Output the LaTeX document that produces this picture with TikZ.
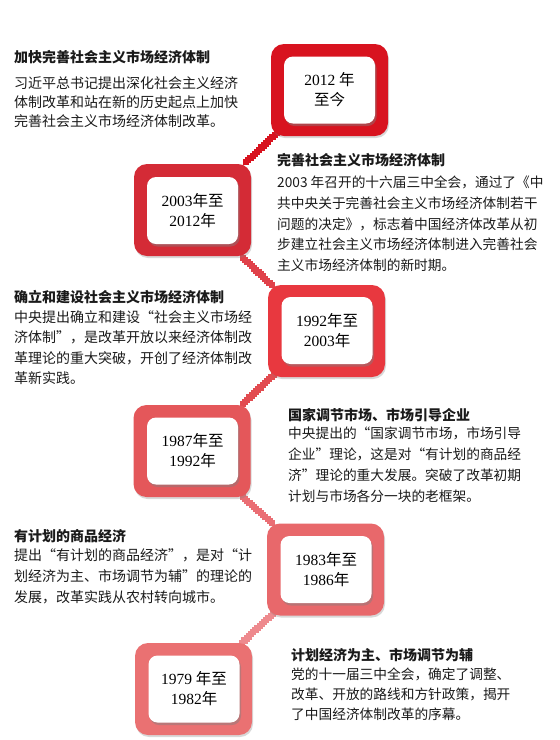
\documentclass[tikz,border=0pt]{standalone}
\usepackage{fontspec}
\setmainfont{Liberation Serif}
\newfontfamily\cjk{Noto Sans CJK SC}
\usetikzlibrary{shadows,decorations.markings,calc}
\pgfdeclarelayer{background}
\pgfsetlayers{background,main}
\definecolor{ra}{HTML}{D8131F}
\definecolor{rb}{HTML}{D42B36}
\definecolor{rc}{HTML}{E8383F}
\definecolor{rd}{HTML}{E4575A}
\definecolor{re}{HTML}{E8686B}
\definecolor{rf}{HTML}{EA7172}
\definecolor{ca}{HTML}{D8131F}
\definecolor{cb}{HTML}{E0414A}
\definecolor{cc}{HTML}{E24B50}
\definecolor{cd}{HTML}{EA6E74}
\definecolor{ce}{HTML}{EE8A8E}
\definecolor{txt}{HTML}{1A1A1A}
\tikzset{
  outerbox/.style={fill=#1, rounded corners=13pt, minimum width=117pt, minimum height=92pt,
    drop shadow={shadow xshift=1pt, shadow yshift=-2pt, opacity=0.3}},
  innerbox/.style={fill=white, rounded corners=9pt, minimum width=91pt, minimum height=67pt,
    align=center, inner sep=0pt, font=\fontsize{15.5}{20}\selectfont,
    drop shadow={shadow xshift=1.5pt, shadow yshift=-2.5pt, opacity=0.45}},
  ttl/.style={anchor=west, inner sep=0pt, text=txt, font=\fontsize{14}{14}\cjk\bfseries},
  bodytext/.style={anchor=north west, inner sep=0pt, align=left, text=txt,
    font=\fontsize{#1}{#1}\cjk},
  stairs/.style={decoration={markings, mark=between positions 0 and 1 step 3pt with
    {\pgftransformresetnontranslations \fill[#1] (-3.1pt,-3.1pt) rectangle (3.1pt,3.1pt);}},
    decorate}
}
\begin{document}
\begin{tikzpicture}[x=1pt,y=-1pt]
\useasboundingbox (0,0) rectangle (560,740);

% boxes
\node[outerbox=ra] (o1) at (329.5,90) {};
\node[innerbox] (i1) at (329.5,90) {2012 {\cjk 年}\\{\cjk 至今}};
\node[outerbox=rb] (o2) at (192.5,210) {};
\node[innerbox] (i2) at (192.5,210.5) {2003{\cjk 年至}\\2012{\cjk 年}};
\node[outerbox=rc] (o3) at (326.5,331) {};
\node[innerbox] (i3) at (327,330.5) {1992{\cjk 年至}\\2003{\cjk 年}};
\node[outerbox=rd] (o4) at (192,451) {};
\node[innerbox] (i4) at (192.5,451) {1987{\cjk 年至}\\1992{\cjk 年}};
\node[outerbox=re] (o5) at (325.5,569.5) {};
\node[innerbox] (i5) at (326,569.5) {1983{\cjk 年至}\\1986{\cjk 年}};
\node[outerbox=rf] (o6) at (193.5,689) {};
\node[innerbox] (i6) at (194,689) {1979 {\cjk 年至}\\1982{\cjk 年}};

% connectors
\begin{pgfonlayer}{background}
\fill[white] (0,0) rectangle (560,740);
\path[stairs=ca] ($(o1.south west)+(6,-3)$) -- ($(o2.north east)+(-7,0)$);
\path[stairs=cb] ($(o2.south east)+(-8,2)$) -- ($(o3.north west)+(4,0)$);
\path[stairs=cc] ($(o3.south west)+(6,-2)$) -- ($(o4.north east)+(-9,0)$);
\path[stairs=cd] ($(o4.south east)+(-8,0)$) -- ($(o5.north west)+(6,0)$);
\path[stairs=ce] ($(o5.south west)+(6,-2)$) -- ($(o6.north east)+(-10,0)$);
\end{pgfonlayer}

% texts
\node[ttl] (t1) at (14,56.7) {加快完善社会主义市场经济体制};
\node[bodytext=14, font=\fontsize{14}{19}\cjk] (b1) at (14,76) {习近平总书记提出深化社会主义经济\\体制改革和站在新的历史起点上加快\\完善社会主义市场经济体制改革。};

\node[ttl] (t2) at (277,160) {完善社会主义市场经济体制};
\node[bodytext=13.7, font=\fontsize{13.7}{20.6}\cjk] (b2) at (277,176) {2003 年召开的十六届三中全会，通过了《中\\共中央关于完善社会主义市场经济体制若干\\问题的决定》，标志着中国经济体改革从初\\步建立社会主义市场经济体制进入完善社会\\主义市场经济体制的新时期。};

\node[ttl] (t3) at (14,296.7) {确立和建设社会主义市场经济体制};
\node[bodytext=14, font=\fontsize{14}{20.5}\cjk] (b3) at (14,310) {中央提出确立和建设“社会主义市场经\\济体制”，是改革开放以来经济体制改\\革理论的重大突破，开创了经济体制改\\革新实践。};

\node[ttl] (t4) at (288,415) {国家调节市场、市场引导企业};
\node[bodytext=13.7, font=\fontsize{13.7}{21}\cjk] (b4) at (288,426.5) {中央提出的“国家调节市场，市场引导\\企业”理论，这是对“有计划的商品经\\济”理论的重大发展。突破了改革初期\\计划与市场各分一块的老框架。};

\node[ttl] (t5) at (14,536) {有计划的商品经济};
\node[bodytext=14, font=\fontsize{14}{21}\cjk] (b5) at (14,548.3) {提出“有计划的商品经济”，是对“计\\划经济为主、市场调节为辅”的理论的\\发展，改革实践从农村转向城市。};

\node[ttl] (t6) at (291,655) {计划经济为主、市场调节为辅};
\node[bodytext=13.7, font=\fontsize{13.7}{20}\cjk] (b6) at (291,667.3) {党的十一届三中全会，确定了调整、\\改革、开放的路线和方针政策，揭开\\了中国经济体制改革的序幕。};
\end{tikzpicture}
\end{document}
